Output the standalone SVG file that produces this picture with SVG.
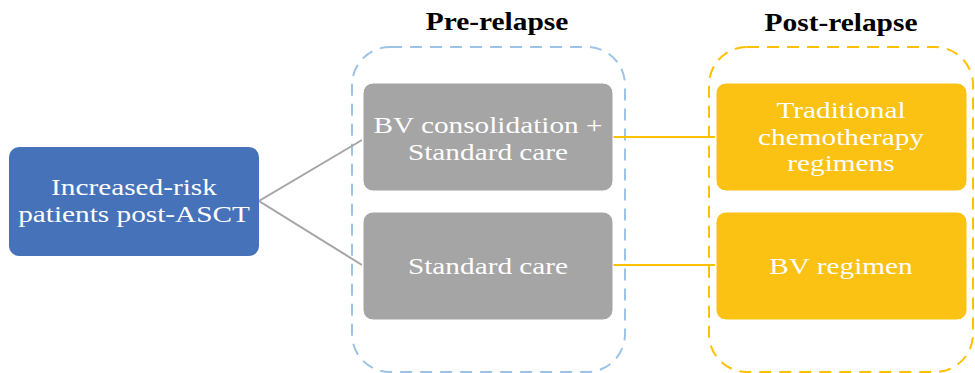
<svg xmlns="http://www.w3.org/2000/svg" width="975" height="373" viewBox="0 0 975 373">
<style>
.t{font-family:"Liberation Serif","Times New Roman",serif;fill:#fff;font-size:24px;text-anchor:middle}
.h{font-family:"Liberation Serif","Times New Roman",serif;fill:#000;font-size:24.5px;font-weight:bold;text-anchor:middle}
.gray{fill:#A5A5A5;stroke:#fff;stroke-width:1}
.yel{fill:#FBC113;stroke:#fff;stroke-width:1}
.cont{fill:none;stroke-width:2;stroke-dasharray:12 8}
</style>
<rect width="975" height="373" fill="#fff"/>
<g id="pre-relapse">
<rect class="cont" x="352" y="47" width="273" height="325" rx="38" stroke="#9DC3E6"/>
<text class="h" transform="translate(497 30) scale(1.2 1)">Pre-relapse</text>
</g>
<g id="post-relapse">
<rect class="cont" x="709" y="47" width="264" height="325" rx="38" stroke="#FFC000"/>
<text class="h" transform="translate(841 31) scale(1.2 1)">Post-relapse</text>
</g>
<g id="connectors" fill="none" stroke-width="2">
<polyline points="362,140 259,201 362,265" stroke="#A5A5A5"/>
<line x1="613" y1="137" x2="715" y2="137" stroke="#FFC000"/>
<line x1="613" y1="265" x2="715" y2="265" stroke="#FFC000"/>
</g>
<g id="patients">
<rect x="9" y="147" width="250" height="109" rx="10" fill="#4672BA"/>
<text class="t" transform="translate(134 195) scale(1.22 1)">Increased-risk</text>
<text class="t" transform="translate(134 222) scale(1.22 1)">patients post-ASCT</text>
</g>
<g id="bv-consolidation">
<rect class="gray" x="363" y="83" width="250" height="108" rx="10"/>
<text class="t" transform="translate(488 133) scale(1.22 1)">BV consolidation +</text>
<text class="t" transform="translate(488 160) scale(1.22 1)">Standard care</text>
</g>
<g id="standard-care">
<rect class="gray" x="363" y="212" width="250" height="108" rx="10"/>
<text class="t" transform="translate(488 274) scale(1.22 1)">Standard care</text>
</g>
<g id="traditional-chemo">
<rect class="yel" x="716" y="83" width="251" height="108" rx="10"/>
<text class="t" transform="translate(841 118) scale(1.22 1)">Traditional</text>
<text class="t" transform="translate(841 145) scale(1.22 1)">chemotherapy</text>
<text class="t" transform="translate(841 171) scale(1.22 1)">regimens</text>
</g>
<g id="bv-regimen">
<rect class="yel" x="716" y="212" width="251" height="108" rx="10"/>
<text class="t" transform="translate(841 274) scale(1.22 1)">BV regimen</text>
</g>
</svg>
